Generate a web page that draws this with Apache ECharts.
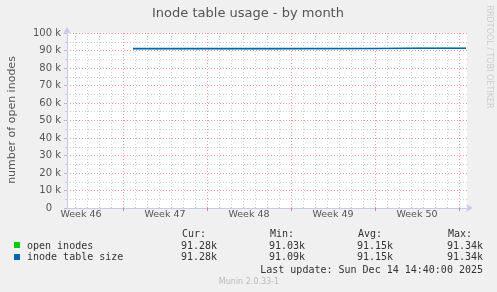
<!DOCTYPE html>
<html><head><meta charset="utf-8">
<script src="https://cdn.jsdelivr.net/npm/echarts@6/dist/echarts.min.js"></script>
<style>html,body{margin:0;padding:0;background:#f0f0f0}#c{width:497px;height:292px}</style>
</head><body><div id="c"></div>
<script>
// hours since start of the 800 h (2 h/pixel) month window
const weekLabels = ['Week 46', 'Week 47', 'Week 48', 'Week 49', 'Week 50'];
const weekLabelPos = [28, 196, 364, 532, 700];
const weekLines = [112, 280, 448, 616, 784];
const dayLines = [16, 40, 64, 88, 136, 160, 184, 208, 232, 256, 304, 328, 352, 376, 400, 424, 472, 496, 520, 544, 568, 592, 640, 664, 688, 712, 736, 760];
const times = [132, 250, 400, 616, 618, 700, 798];
const openInodes = [91080, 91060, 91040, 91100, 91300, 91290, 91280];
const tableSize = [91100, 91090, 91090, 91110, 91310, 91300, 91280];
const statHeaders = ['Cur:', 'Min:', 'Avg:', 'Max:'];
const openStats = ['91.28k', '91.03k', '91.15k', '91.34k'];
const tableStats = ['91.28k', '91.09k', '91.15k', '91.34k'];

const chart = echarts.init(document.getElementById('c'), null, {renderer: 'canvas'});
const pair = (arr) => times.map((t, i) => [t, arr[i]]);
const gray = 'rgb(205,205,205)', red = 'rgb(240,150,150)';
const gridData = dayLines.map(x => [x, 0]).concat(weekLines.map(x => [x, 1]));
const mono = '"DejaVu Sans Mono", monospace';
const txt = (x, y, s, extra) => Object.assign({type: 'text', x: x, y: y, style: Object.assign({text: s, fill: '#333', font: '10px ' + mono, textVerticalAlign: 'middle'}, extra || {})});
const colX = [182, 270, 358, 448];
const graphics = [
  {type: 'text', x: 248, y: 14, style: {text: 'Inode table usage - by month', fill: '#555', font: '13px "DejaVu Sans"', textAlign: 'center', textVerticalAlign: 'middle'}},
  {type: 'text', x: 12, y: 120, rotation: Math.PI / 2, style: {text: 'number of open inodes', fill: '#555', font: '11px "DejaVu Sans"', textAlign: 'center', textVerticalAlign: 'middle'}},
  {type: 'text', x: 489, y: 57, rotation: -Math.PI / 2, style: {text: 'RRDTOOL / TOBI OETIKER', fill: '#cccccc', font: '8px "DejaVu Sans"', textAlign: 'center', textVerticalAlign: 'middle'}},
  {type: 'rect', shape: {x: 14, y: 242, width: 6, height: 6}, style: {fill: '#00cc00'}},
  {type: 'rect', shape: {x: 14, y: 254, width: 6, height: 6}, style: {fill: '#0066b3'}},
  txt(27, 246, 'open inodes'),
  txt(27, 257, 'inode table size'),
  txt(483, 270, 'Last update: Sun Dec 14 14:40:00 2025', {textAlign: 'right'}),
  {type: 'text', x: 249, y: 282, style: {text: 'Munin 2.0.33-1', fill: '#bbb', font: '8px "DejaVu Sans"', textAlign: 'center', textVerticalAlign: 'middle'}}
];
statHeaders.forEach((h, i) => graphics.push(txt(colX[i], 234, h)));
openStats.forEach((v, i) => graphics.push(txt(colX[i] + 35, 246, v, {textAlign: 'right'})));
tableStats.forEach((v, i) => graphics.push(txt(colX[i] + 35, 257, v, {textAlign: 'right'})));

chart.setOption({
  backgroundColor: '#f0f0f0',
  animation: false,
  grid: {left: 67, top: 33, width: 400, height: 175, backgroundColor: '#fff', show: true, borderWidth: 0},
  xAxis: {
    type: 'value', min: 0, max: 800,
    splitLine: {show: false},
    axisLine: {show: true, lineStyle: {color: '#c8c8f0'}, symbol: ['none', 'arrow'], symbolSize: [6, 7], symbolOffset: [0, 6]},
    axisTick: {show: true, customValues: weekLines, length: 3, inside: false, lineStyle: {color: '#e08080'}},
    axisLabel: {customValues: weekLabelPos, formatter: (v) => weekLabels[weekLabelPos.indexOf(v)], color: '#555', fontFamily: 'DejaVu Sans', fontSize: 9.5, margin: 2}
  },
  yAxis: {
    type: 'value', min: 0, max: 100000, interval: 10000,
    axisLine: {show: true, lineStyle: {color: '#c8c8f0'}, symbol: ['none', 'arrow'], symbolSize: [6, 7], symbolOffset: [0, 6]},
    axisTick: {show: true, length: 3, lineStyle: {color: '#bbb'}},
    minorTick: {show: true, splitNumber: 2, length: 2, lineStyle: {color: '#ccc'}},
    axisLabel: {formatter: (v) => v === 0 ? '{z|0}' : (v / 1000) + ' k', color: '#555', fontFamily: 'DejaVu Sans', fontSize: 10, margin: 6,
      rich: {z: {color: '#555', fontFamily: 'DejaVu Sans', fontSize: 10, padding: [0, 9, 0, 0]}}},
    splitLine: {show: true, lineStyle: {color: red, type: [1, 2], width: 1}},
    minorSplitLine: {show: true, lineStyle: {color: gray, type: [1, 2], width: 1}}
  },
  graphic: graphics,
  series: [
    {type: 'custom', name: 'vgrid', silent: true, z: 1, data: gridData, encode: {x: 0, y: 1},
     renderItem: (params, api) => {
       const x = api.value(0), major = api.value(1);
       const top = api.coord([x, 100000]), bot = api.coord([x, 0]);
       const px = Math.round(top[0]) + 0.5;
       return {type: 'line', silent: true, shape: {x1: px, y1: top[1], x2: px, y2: bot[1]},
               style: {stroke: major ? red : gray, lineWidth: 1, lineDash: [1, 2]}};
     }},
    {type: 'line', name: 'open inodes', data: pair(openInodes), showSymbol: false, lineStyle: {color: '#00cc00', width: 1}, z: 3},
    {type: 'line', name: 'inode table size', data: pair(tableSize), showSymbol: false, lineStyle: {color: '#0066b3', width: 1.6}, z: 4}
  ]
});
</script></body></html>
